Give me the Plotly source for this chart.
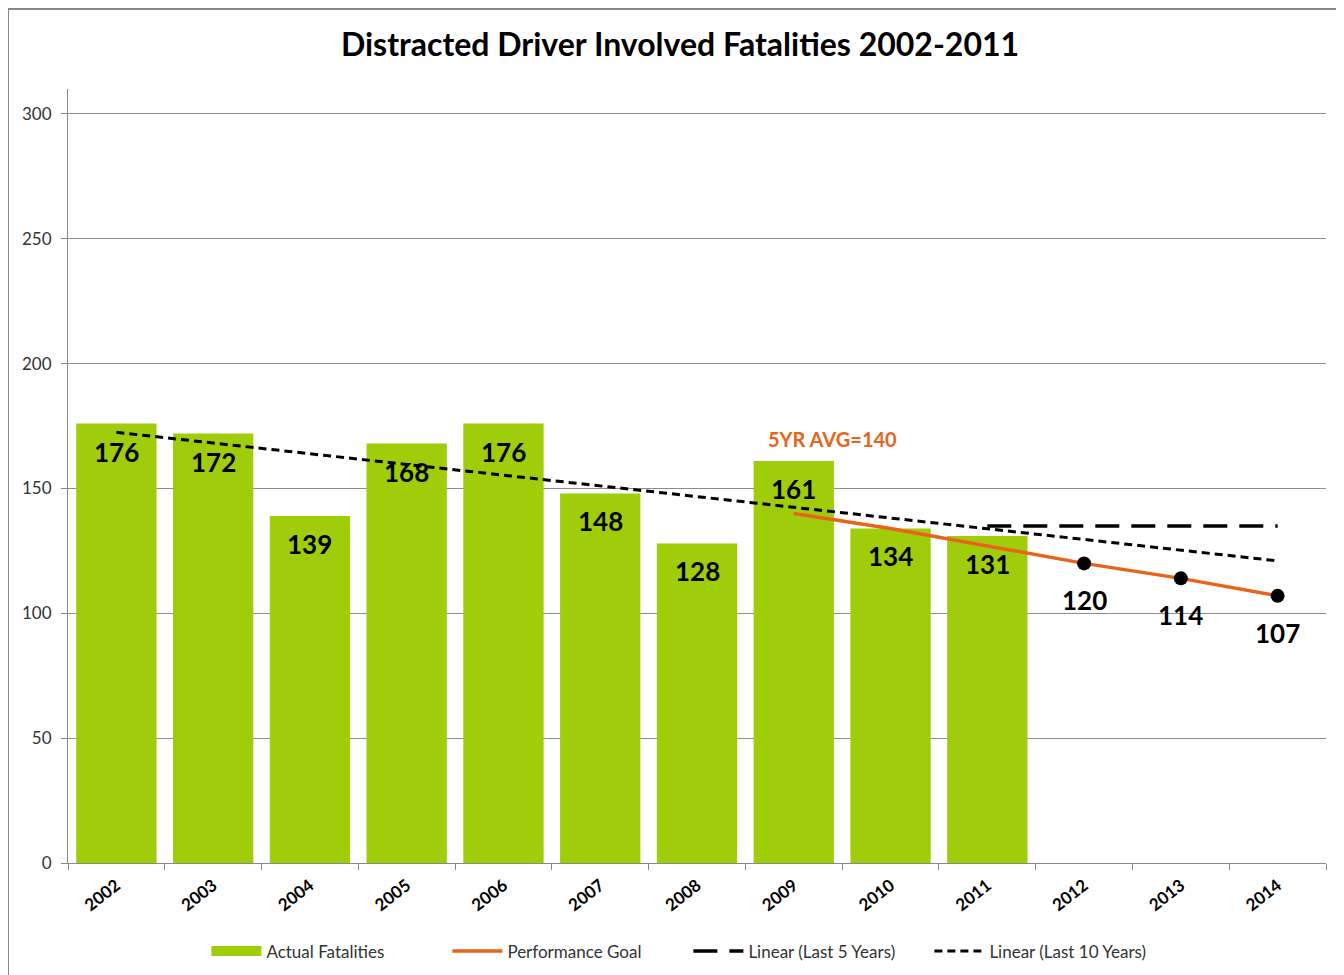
import plotly.graph_objects as go

# --- data ---
years = ["2002", "2003", "2004", "2005", "2006", "2007", "2008",
         "2009", "2010", "2011", "2012", "2013", "2014"]
actual_years = years[:10]
actual = [176, 172, 139, 168, 176, 148, 128, 161, 134, 131]

goal_years = ["2009", "2010", "2011", "2012", "2013", "2014"]
goal = [140, 134, 127, 120, 114, 107]
target_years = ["2012", "2013", "2014"]
targets = [120, 114, 107]

lin5_years = ["2011", "2014"]
lin5 = [135, 135]
lin10_years = ["2002", "2014"]
lin10 = [172.5, 121]

GREEN = "#A0CD0A"
ORANGE = "#E8641B"
FONT = "Lato, 'Open Sans', sans-serif"
LABEL_FONT = dict(size=26, color="black", family=FONT, weight="bold")

fig = go.Figure()

fig.add_trace(go.Bar(
    x=actual_years, y=actual, name="Actual Fatalities", showlegend=False,
    marker=dict(color=GREEN, line=dict(width=0)),
))
# legend stand-in for the bar series (wide swatch like the original)
fig.add_trace(go.Scatter(
    x=[None], y=[None], name="Actual Fatalities", mode="lines",
    line=dict(color=GREEN, width=12),
))

fig.add_trace(go.Scatter(
    x=goal_years, y=goal, name="Performance Goal", mode="lines",
    line=dict(color=ORANGE, width=3.5),
))

fig.add_trace(go.Scatter(
    x=target_years, y=targets, mode="markers", showlegend=False,
    marker=dict(color="black", size=14),
))

fig.add_trace(go.Scatter(
    x=lin5_years, y=lin5, name="Linear (Last 5 Years)", mode="lines",
    line=dict(color="black", width=3.5, dash="24px,12px"),
))

fig.add_trace(go.Scatter(
    x=lin10_years, y=lin10, name="Linear (Last 10 Years)", mode="lines",
    line=dict(color="black", width=3, dash="8px,5px"),
))

# value labels (category index used for x)
for yr, v in zip(actual_years, actual):
    fig.add_annotation(x=years.index(yr), y=v, text=str(v), showarrow=False,
                       yshift=-28, font=LABEL_FONT)
for yr, v in zip(target_years, targets):
    fig.add_annotation(x=years.index(yr), y=v, text=str(v), showarrow=False,
                       yshift=-37, font=LABEL_FONT)

fig.add_annotation(
    x=7.4, y=170, xref="x", yref="y", text="<b>5YR AVG=140</b>",
    showarrow=False, font=dict(size=20, color=ORANGE, family=FONT),
)

# outer chart border
fig.add_shape(type="rect", xref="paper", yref="paper",
              x0=-0.0477, x1=1.0111, y0=-0.3, y1=1.1034,
              line=dict(color="#888888", width=2), layer="below")

fig.update_layout(
    width=1344, height=975,
    margin=dict(l=60, r=26, t=81, b=120, autoexpand=False),
    paper_bgcolor="white", plot_bgcolor="white",
    font=dict(family=FONT, color="#222222"),
    title=dict(text="<b>Distracted Driver Involved Fatalities 2002-2011</b>",
               x=0.5, xanchor="center", y=0.962, yanchor="middle",
               font=dict(size=32, color="black", family=FONT)),
    bargap=0.17,
    showlegend=True,
    legend=dict(orientation="h", x=0.11, xanchor="left", y=-0.091, yanchor="top",
                font=dict(size=17, color="#333333", family=FONT),
                entrywidth=176, entrywidthmode="pixels", itemwidth=50,
                traceorder="normal"),
)

fig.update_xaxes(
    type="category", categoryorder="array", categoryarray=years,
    range=[-0.5, 12.5], automargin=False,
    tickangle=-38, tickfont=dict(size=17, color="black", family=FONT, weight="bold"),
    ticklabelstandoff=5,
    showline=True, linecolor="#888888", linewidth=1,
    ticks="outside", tickson="boundaries", ticklen=6, tickcolor="#888888",
    showgrid=False,
)
fig.update_yaxes(
    range=[0, 310], tickvals=[0, 50, 100, 150, 200, 250, 300], automargin=False,
    tickfont=dict(size=17, color="#333333", family=FONT),
    ticklabelstandoff=6,
    showline=True, linecolor="#888888", linewidth=1,
    ticks="outside", ticklen=6, tickcolor="#888888",
    showgrid=True, gridcolor="#8c8c8c", gridwidth=1,
    zeroline=False,
)

fig.write_html("out.html")
